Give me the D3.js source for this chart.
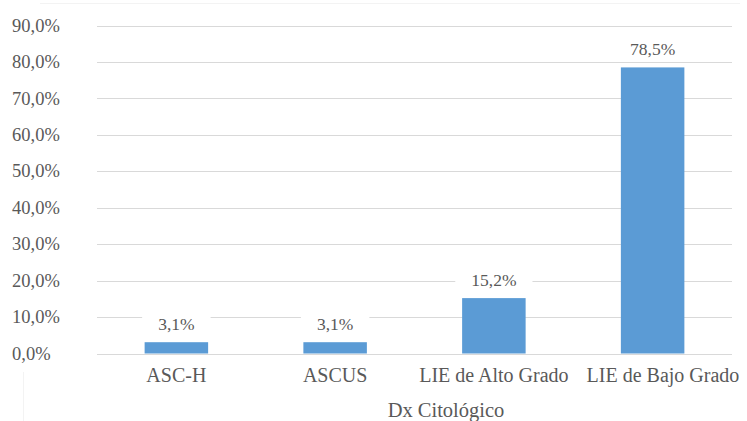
<!DOCTYPE html>
<html>
<head>
<meta charset="utf-8">
<script src="https://cdn.jsdelivr.net/npm/d3@7/dist/d3.min.js"></script>
<style>
  body { margin: 0; background: #fff; }
</style>
</head>
<body>
<svg id="chart"></svg>
<script>
// data
var categories = ["ASC-H", "ASCUS", "LIE de Alto Grado", "LIE de Bajo Grado"];
var values = [3.1, 3.1, 15.2, 78.5];
var yTicks = [0, 10, 20, 30, 40, 50, 60, 70, 80, 90];
var axisTitle = "Dx Citológico";

var width = 747, height = 421;
var plotLeft = 97, plotRight = 732, plotTop = 25.5, plotBottom = 353.5;
var font = "'Liberation Serif', Tinos, 'Times New Roman', serif";
var textColor = "#595959";

var svg = d3.select("#chart").attr("width", width).attr("height", height);

var fmt = function(v) { return v.toFixed(1).replace(".", ",") + "%"; };

var x = d3.scaleBand().domain(categories).range([plotLeft, plotRight]).paddingInner(0.6).paddingOuter(0.3);
var y = d3.scaleLinear().domain([0, 90]).range([plotBottom, plotTop]);

// faint chart-area border remnants
svg.append("line").attr("x1", 40).attr("x2", 740).attr("y1", 3.5).attr("y2", 3.5)
  .attr("stroke", "#f3f3f3");
svg.append("line").attr("x1", 23.5).attr("x2", 23.5).attr("y1", 372).attr("y2", 421)
  .attr("stroke", "#f3f3f3");

// gridlines
svg.append("g").selectAll("line").data(yTicks).enter().append("line")
  .attr("x1", plotLeft).attr("x2", plotRight)
  .attr("y1", function(d) { return Math.round(y(d)) + 0.5; })
  .attr("y2", function(d) { return Math.round(y(d)) + 0.5; })
  .attr("stroke", "#d9d9d9").attr("stroke-width", 1);

// y tick labels (left aligned like the original)
svg.append("g").selectAll("text").data(yTicks).enter().append("text")
  .attr("x", 12).attr("y", function(d) { return y(d) + 6.2; })
  .attr("font-family", font).attr("font-size", 18.5).attr("fill", textColor)
  .text(fmt);

// bars
svg.append("g").selectAll("rect").data(values).enter().append("rect")
  .attr("x", function(d, i) { return x(categories[i]); })
  .attr("width", x.bandwidth())
  .attr("y", function(d) { return y(d); })
  .attr("height", function(d) { return y(0) - y(d); })
  .attr("fill", "#5b9bd5");

// value labels with white backing
var lab = svg.append("g").selectAll("g").data(values).enter().append("g")
  .attr("transform", function(d, i) {
    return "translate(" + (x(categories[i]) + x.bandwidth() / 2) + "," + (y(d) - 12) + ")";
  });
var bg = lab.append("rect").attr("y", -20).attr("height", 26).attr("fill", "#fff");
var vt = lab.append("text").attr("text-anchor", "middle")
  .attr("font-family", font).attr("font-size", 17.5).attr("fill", textColor)
  .text(fmt);
bg.each(function(d, i) {
  var w = vt.nodes()[i].getComputedTextLength() + 32;
  d3.select(this).attr("x", -w / 2).attr("width", w);
});

// category labels
var cat = svg.append("g").selectAll("text").data(categories).enter().append("text")
  .attr("x", function(d) { return x(d) + x.bandwidth() / 2; })
  .attr("y", 382)
  .attr("text-anchor", "middle")
  .attr("font-family", font).attr("font-size", 20).attr("fill", textColor)
  .text(function(d) { return d; });

// push a label right when it would run into the previous one, but keep it on the page
var prevRight = -Infinity;
cat.each(function() {
  var t = d3.select(this), w = this.getComputedTextLength(), cx = +t.attr("x");
  if (cx - w / 2 < prevRight + 18) cx = prevRight + 18 + w / 2;
  if (cx + w / 2 > width - 4) cx = width - 4 - w / 2;
  t.attr("x", cx);
  prevRight = cx + w / 2;
});

svg.append("text").attr("x", 446).attr("y", 417).attr("text-anchor", "middle")
  .attr("font-family", font).attr("font-size", 20.5).attr("fill", textColor)
  .text(axisTitle);
</script>
</body>
</html>
